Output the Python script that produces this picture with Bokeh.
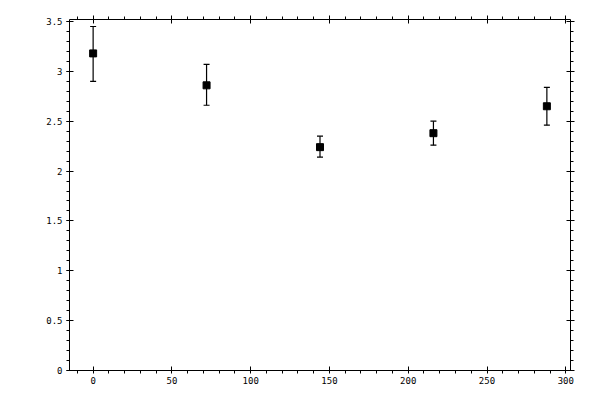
from bokeh.plotting import figure
from bokeh.models import (ColumnDataSource, Range1d, SingleIntervalTicker, LinearAxis,
                          Whisker, TeeHead, PrintfTickFormatter)
from bokeh.embed import file_html
from bokeh.resources import INLINE

# data
x_vals = [0, 72, 144, 216, 288]
y_vals = [3.18, 2.86, 2.24, 2.38, 2.65]
y_upper = [3.45, 3.07, 2.35, 2.50, 2.84]
y_lower = [2.90, 2.66, 2.14, 2.26, 2.46]

src = ColumnDataSource(dict(x=x_vals, y=y_vals, upper=y_upper, lower=y_lower))

FONT = "DejaVu Sans Mono"

p = figure(width=600, height=400, output_backend="svg", toolbar_location=None,
           x_range=Range1d(-15, 303), y_range=Range1d(0, 3.52),
           x_axis_type=None, y_axis_type=None)
p.min_border_left = 69
p.min_border_right = 30
p.min_border_top = 19
p.min_border_bottom = 30
p.outline_line_color = None
p.xgrid.visible = False
p.ygrid.visible = False
p.background_fill_color = "white"
p.border_fill_color = "white"


def make_axis(kind, show_labels, maj_in, maj_out, min_in, min_out):
    if kind == "x":
        ticker = SingleIntervalTicker(interval=50, num_minor_ticks=5)
    else:
        ticker = SingleIntervalTicker(interval=0.5, num_minor_ticks=5)
    ax = LinearAxis(ticker=ticker, formatter=PrintfTickFormatter(format="%g"))
    ax.axis_line_color = "black"
    ax.axis_line_width = 1
    ax.major_tick_line_color = "black"
    ax.minor_tick_line_color = "black"
    ax.major_tick_line_width = 1
    ax.minor_tick_line_width = 1
    ax.major_tick_in = maj_in
    ax.major_tick_out = maj_out
    ax.minor_tick_in = min_in
    ax.minor_tick_out = min_out
    ax.major_label_text_font = FONT
    ax.major_label_text_font_size = "9px" if show_labels else "0px"
    ax.major_label_text_color = "black"
    if not show_labels:
        ax.major_label_text_alpha = 0
    return ax


bottom = make_axis("x", True, 4, 0, 0, 3)
bottom.major_label_standoff = 3
left = make_axis("y", True, 4, 3, 0, 3)
left.major_label_standoff = 4
top = make_axis("x", False, 4, 4, 0, 3)
right = make_axis("y", False, 4, 4, 0, 3)

p.add_layout(bottom, "below")
p.add_layout(left, "left")
p.add_layout(top, "above")
p.add_layout(right, "right")

w = Whisker(base="x", upper="upper", lower="lower", source=src,
            line_color="black", line_width=1.2,
            upper_head=TeeHead(size=6, line_color="black", line_width=1.2),
            lower_head=TeeHead(size=6, line_color="black", line_width=1.2))
p.add_layout(w)

p.scatter("x", "y", source=src, marker="square", size=7,
          fill_color="black", line_color="black")

open("out.html", "w").write(file_html(p, INLINE))
